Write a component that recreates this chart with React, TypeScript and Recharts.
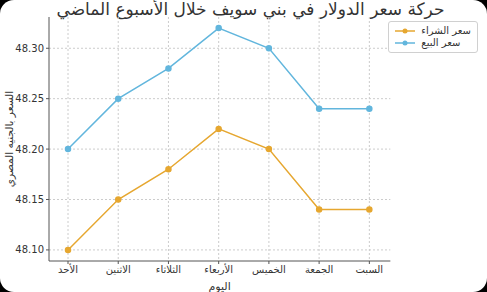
import React from "react";
import { LineChart, Line, XAxis, YAxis, CartesianGrid, Legend, Label } from "recharts";

const days = ["الأحد", "الاثنين", "الثلاثاء", "الأربعاء", "الخميس", "الجمعة", "السبت"];
const buyPrices = [48.10, 48.15, 48.18, 48.22, 48.20, 48.14, 48.14];
const sellPrices = [48.20, 48.25, 48.28, 48.32, 48.30, 48.24, 48.24];
const yTicks = [48.10, 48.15, 48.20, 48.25, 48.30];

const BUY_COLOR = "#E6A730";
const SELL_COLOR = "#62B6DD";
const FONT = "'DejaVu Sans', sans-serif";

const data = days.map((d, i) => ({ day: d, buy: buyPrices[i], sell: sellPrices[i] }));

const LegendBox = () => (
  <div
    style={{
      border: "1px solid #d0d0d0",
      borderRadius: 3,
      background: "rgba(255,255,255,0.9)",
      padding: "3px 6px",
      fontFamily: FONT,
      fontSize: 10,
      color: "#333",
      lineHeight: "12px",
    }}
  >
    {[
      { name: "سعر الشراء", color: BUY_COLOR },
      { name: "سعر البيع", color: SELL_COLOR },
    ].map((it) => (
      <div key={it.name} style={{ display: "flex", alignItems: "center", gap: 6 }}>
        <svg width={20} height={8}>
          <line x1={0} y1={4} x2={20} y2={4} stroke={it.color} strokeWidth={1.5} />
          <circle cx={10} cy={4} r={2.5} fill={it.color} />
        </svg>
        <span>{it.name}</span>
      </div>
    ))}
  </div>
);

const YLabel = (props: any) => {
  const vb = props.viewBox || {};
  const cy = (vb.y ?? 17) + (vb.height ?? 244) / 2;
  return (
    <text
      x={9}
      y={cy}
      transform={`rotate(-90, 9, ${cy})`}
      textAnchor="middle"
      dominantBaseline="central"
      style={{ fontFamily: FONT, fontSize: 10.5, fill: "#333" }}
    >
      السعر بالجنيه المصري
    </text>
  );
};

export default function App() {
  return (
    <div
      style={{
        position: "fixed",
        top: 0,
        left: 0,
        width: 487,
        height: 292,
        background: "#000",
      }}
    >
      <div
        style={{
          position: "absolute",
          top: 0,
          left: 0,
          width: 487,
          height: 292,
          background: "#fff",
          borderRadius: 14,
          overflow: "hidden",
        }}
      >
        <div
          style={{
            position: "absolute",
            top: 0,
            left: 0,
            width: 487,
            textAlign: "center",
            fontFamily: FONT,
            fontSize: 17,
            color: "#333",
            lineHeight: "19px",
            paddingLeft: 14,
            boxSizing: "border-box",
          }}
        >
          حركة سعر الدولار في بني سويف خلال الأسبوع الماضي
        </div>
        <LineChart
          width={487}
          height={292}
          data={data}
          margin={{ top: 17, right: 7, bottom: 0, left: 0 }}
        >
          <CartesianGrid
            stroke="#cccccc"
            strokeDasharray="2 2"
            horizontalValues={yTicks}
            verticalValues={days}
          />
          <XAxis
            dataKey="day"
            height={31}
            padding={{ left: 19, right: 21 }}
            tick={{ fontFamily: FONT, fontSize: 10, fill: "#333" }}
            tickLine={{ stroke: "#555" }}
            tickSize={3}
            axisLine={{ stroke: "#555" }}
            interval={0}
          >
            <Label
              value="اليوم"
              position="insideBottom"
              offset={2}
              style={{ fontFamily: FONT, fontSize: 11, fill: "#333" }}
            />
          </XAxis>
          <YAxis
            width={49}
            domain={[48.089, 48.331]}
            ticks={yTicks}
            tickFormatter={(v: number) => v.toFixed(2)}
            tick={{ fontFamily: FONT, fontSize: 10, fill: "#333" }}
            tickLine={{ stroke: "#555" }}
            tickSize={3}
            axisLine={{ stroke: "#555" }}
          >
            <Label content={<YLabel />} />
          </YAxis>
          <Legend
            verticalAlign="top"
            align="right"
            layout="vertical"
            wrapperStyle={{ top: 21, right: 9, width: "auto" }}
            content={() => <LegendBox />}
          />
          <Line
            dataKey="buy"
            name="سعر الشراء"
            stroke={BUY_COLOR}
            strokeWidth={1.5}
            dot={{ r: 2.5, fill: BUY_COLOR, stroke: BUY_COLOR }}
            isAnimationActive={false}
          />
          <Line
            dataKey="sell"
            name="سعر البيع"
            stroke={SELL_COLOR}
            strokeWidth={1.5}
            dot={{ r: 2.5, fill: SELL_COLOR, stroke: SELL_COLOR }}
            isAnimationActive={false}
          />
        </LineChart>
      </div>
    </div>
  );
}
